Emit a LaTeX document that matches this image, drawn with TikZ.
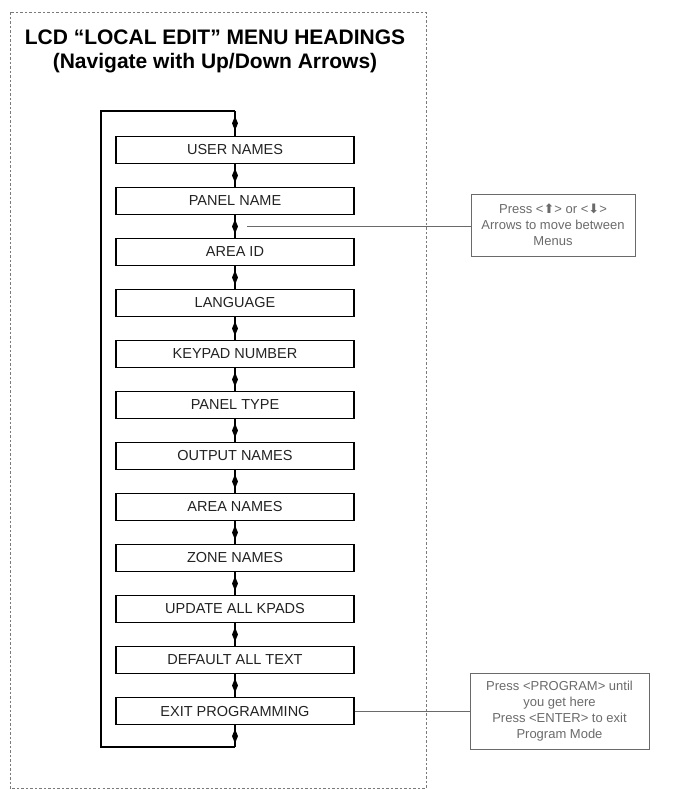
\documentclass[tikz,border=0pt]{standalone}
\usepackage{fontspec}
\setmainfont{Liberation Sans}
\newfontfamily\symfont{DejaVu Sans}
\usetikzlibrary{shapes.geometric,calc}
\definecolor{framegray}{HTML}{7A7A7A}
\definecolor{notegray}{HTML}{6A6A6A}
\definecolor{boxtext}{HTML}{222222}
\begin{document}
\begin{tikzpicture}[x=1pt,y=-1pt,
  menubox/.style={draw, line width=1.7pt, minimum width=238pt, minimum height=27pt, inner sep=0pt, text=boxtext, font=\fontsize{14.5}{16}\selectfont},
  link/.style={line width=1.4pt},
  loopline/.style={line width=1.8pt, line join=miter},
  dmark/.style={diamond, fill=black, inner sep=0pt, minimum width=6.5pt, minimum height=15pt},
  note/.style={draw=notegray, line width=0.8pt, align=center, text=notegray, inner sep=0pt, font=\fontsize{13}{16}\selectfont},
  noteline/.style={draw=notegray, line width=0.8pt},
  titletext/.style={font=\bfseries\fontsize{21}{25}\selectfont, inner sep=0pt}]
\useasboundingbox (0,0) rectangle (683,790);
\draw[framegray, line width=1pt, dash pattern=on 2.5pt off 2pt] (10,12) rectangle (426,788);
\node[titletext] (t1) at (215,37) {LCD “LOCAL EDIT” MENU HEADINGS};
\node[titletext] (t2) at (215,63) {(Navigate with Up/Down Arrows)};
\foreach \lab [count=\i from 0] in {USER NAMES,PANEL NAME,AREA ID,LANGUAGE,KEYPAD NUMBER,PANEL TYPE,OUTPUT NAMES,AREA NAMES,ZONE NAMES,UPDATE ALL KPADS,DEFAULT ALL TEXT,EXIT PROGRAMMING}
  \node[menubox] (b\i) at (235,{150+51*\i}) {\lab};
\foreach \i [evaluate=\i as \j using int(\i+1)] in {0,...,10}
  \draw[link] (b\i.south) -- node[dmark]{} (b\j.north);
\coordinate (ltop) at (235,111);
\coordinate (lbot) at (235,747);
\coordinate (ltl) at (101,111);
\coordinate (lbl) at (101,747);
\draw[link] (ltop) -- node[dmark]{} (b0.north);
\draw[link] (b11.south) -- node[dmark]{} (lbot);
\draw[loopline] (ltop) -- (ltl) -- (lbl) -- (lbot);
\node[note, minimum width=164pt, minimum height=62pt] (n1) at (553,225) {Press <{\symfont ⬆}> or <{\symfont ⬇}>\\Arrows to move between\\Menus};
\coordinate (c1) at (247,226);
\draw[noteline] (c1) -- (c1 -| n1.west);
\node[note, minimum width=179pt, minimum height=76pt] (n2) at (559.5,711) {Press <PROGRAM> until\\you get here\\Press <ENTER> to exit\\Program Mode};
\draw[noteline] (b11.east) -- (n2.west);
\end{tikzpicture}
\end{document}
